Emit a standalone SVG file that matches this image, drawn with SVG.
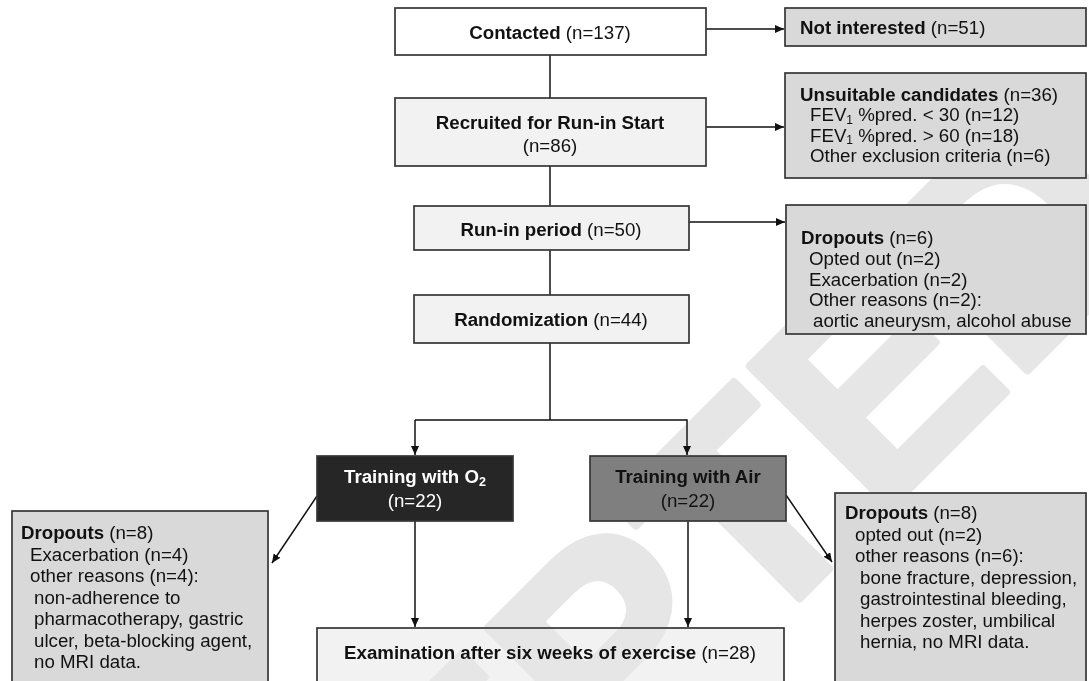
<svg xmlns="http://www.w3.org/2000/svg" width="1089" height="681" viewBox="0 0 1089 681">
<style>
text{font-family:"Liberation Sans",Arial,sans-serif;font-size:18.7px;fill:#111}
.b{font-weight:bold}
.box{stroke:#363636;stroke-width:1.7}
.main{fill:#f2f2f2}
.side{fill:#d9d9d9}
.con{stroke:#111;stroke-width:1.5;fill:none}
.w{fill:#fff}
.wm{font-family:"Liberation Sans",Arial,sans-serif;font-weight:bold;font-size:290px;fill:#e6e6e6;stroke:#e6e6e6;stroke-width:8;stroke-linejoin:round;mix-blend-mode:darken}
</style>
<defs>
<marker id="ah" markerWidth="9" markerHeight="8" refX="9" refY="4" orient="auto" markerUnits="userSpaceOnUse">
<path d="M0,0 L9,4 L0,8 z" fill="#111"/>
</marker>
</defs>
<rect width="1089" height="681" fill="#fff"/>

<g id="connectors">
<line class="con" x1="550" y1="55" x2="550" y2="98"/>
<line class="con" x1="706" y1="29" x2="784" y2="29" marker-end="url(#ah)"/>
<line class="con" x1="550" y1="166" x2="550" y2="206"/>
<line class="con" x1="706" y1="127" x2="784" y2="127" marker-end="url(#ah)"/>
<line class="con" x1="550" y1="250" x2="550" y2="295"/>
<line class="con" x1="689" y1="222" x2="785" y2="222" marker-end="url(#ah)"/>
<polyline class="con" points="550,343 550,420"/>
<polyline class="con" points="415,420 687,420 687,455" marker-end="url(#ah)"/>
<line class="con" x1="415" y1="420" x2="415" y2="455" marker-end="url(#ah)"/>
<line class="con" x1="415" y1="521" x2="415" y2="627" marker-end="url(#ah)"/>
<line class="con" x1="688" y1="521" x2="688" y2="627" marker-end="url(#ah)"/>
<line class="con" x1="317" y1="496" x2="272" y2="563" marker-end="url(#ah)"/>
<line class="con" x1="786" y1="495" x2="832" y2="562" marker-end="url(#ah)"/>
</g>

<g id="contacted">
<rect class="box" x="395" y="8" width="311" height="47" fill="#fff"/>
<text x="550" y="39" text-anchor="middle"><tspan class="b">Contacted</tspan> (n=137)</text>
</g>
<g id="not-interested">
<rect class="box side" x="785" y="8" width="301" height="38"/>
<text x="800" y="34"><tspan class="b">Not interested</tspan> (n=51)</text>
</g>
<g id="recruited">
<rect class="box main" x="395" y="98" width="311" height="68"/>
<text x="550" y="129" text-anchor="middle" class="b">Recruited for Run-in Start</text>
<text x="550" y="152" text-anchor="middle">(n=86)</text>
</g>
<g id="unsuitable">
<rect class="box side" x="785" y="73" width="301" height="105"/>
<text x="800" y="100.5"><tspan class="b">Unsuitable candidates</tspan> (n=36)</text>
<text x="810" y="121">FEV<tspan font-size="12" dy="2.5">1</tspan><tspan dy="-2.5"> %pred. &lt; 30 (n=12)</tspan></text>
<text x="810" y="141.5">FEV<tspan font-size="12" dy="2.5">1</tspan><tspan dy="-2.5"> %pred. &gt; 60 (n=18)</tspan></text>
<text x="810" y="162">Other exclusion criteria (n=6)</text>
</g>
<g id="run-in">
<rect class="box main" x="414" y="206" width="275" height="44"/>
<text x="551" y="236" text-anchor="middle"><tspan class="b">Run-in period</tspan> (n=50)</text>
</g>
<g id="dropouts-runin">
<rect class="box side" x="786" y="205" width="300" height="129"/>
<text x="801" y="244"><tspan class="b">Dropouts</tspan> (n=6)</text>
<text x="809" y="265">Opted out (n=2)</text>
<text x="809" y="286">Exacerbation (n=2)</text>
<text x="809" y="306">Other reasons (n=2):</text>
<text x="813" y="327">aortic aneurysm, alcohol abuse</text>
</g>
<g id="randomization">
<rect class="box main" x="414" y="295" width="275" height="48"/>
<text x="551" y="326" text-anchor="middle"><tspan class="b">Randomization</tspan> (n=44)</text>
</g>
<g id="training-o2">
<rect class="box" x="317" y="456" width="196" height="65" fill="#262626"/>
<text x="415" y="483" text-anchor="middle" class="b w">Training with O<tspan font-size="12.5" dy="3">2</tspan></text>
<text x="415" y="507" text-anchor="middle" class="w">(n=22)</text>
</g>
<g id="training-air">
<rect class="box" x="590" y="456" width="196" height="65" fill="#7f7f7f"/>
<text x="688" y="483" text-anchor="middle" class="b">Training with Air</text>
<text x="688" y="507" text-anchor="middle">(n=22)</text>
</g>
<g id="dropouts-o2">
<rect class="box side" x="12" y="511" width="256" height="180"/>
<text x="21" y="539"><tspan class="b">Dropouts</tspan> (n=8)</text>
<text x="30" y="560.5">Exacerbation (n=4)</text>
<text x="30" y="582">other reasons (n=4):</text>
<text x="34" y="603.5">non-adherence to</text>
<text x="34" y="625">pharmacotherapy, gastric</text>
<text x="34" y="646.5">ulcer, beta-blocking agent,</text>
<text x="34" y="668">no MRI data.</text>
</g>
<g id="dropouts-air">
<rect class="box side" x="835" y="493" width="251" height="200"/>
<text x="845" y="519"><tspan class="b">Dropouts</tspan> (n=8)</text>
<text x="855" y="540.5">opted out (n=2)</text>
<text x="855" y="562">other reasons (n=6):</text>
<text x="860" y="583.5">bone fracture, depression,</text>
<text x="860" y="605">gastrointestinal bleeding,</text>
<text x="860" y="626.5">herpes zoster, umbilical</text>
<text x="860" y="648">hernia, no MRI data.</text>
</g>
<g id="examination">
<rect class="box main" x="317" y="628" width="467" height="70"/>
<text x="550" y="659" text-anchor="middle"><tspan class="b">Examination after six weeks of exercise</tspan> (n=28)</text>
</g>

<g id="watermark">
<text class="wm" text-anchor="middle" transform="translate(598,800) rotate(-45)">ACCEPTED</text>
</g>
</svg>
